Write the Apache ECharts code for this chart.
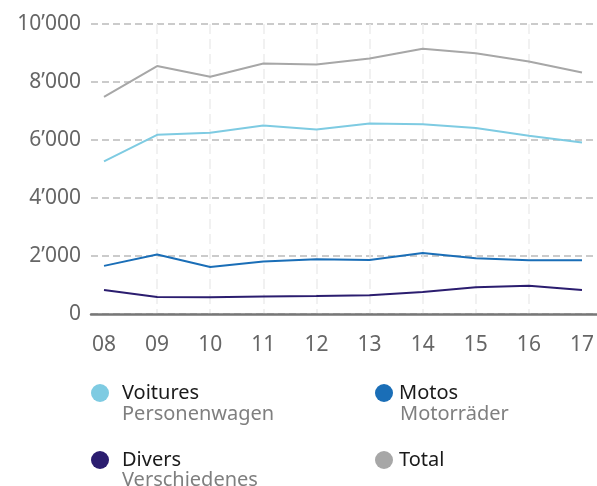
<!DOCTYPE html>
<html>
<head>
<meta charset="utf-8">
<script src="https://cdn.jsdelivr.net/npm/echarts@6/dist/echarts.min.js"></script>
<style>
  html, body { margin: 0; padding: 0; background: #fff; }
  #chartWrap { width: 597px; height: 486px; }
</style>
</head>
<body>
<div id="chartWrap"></div>
<script>
// 数据
var years = ['08', '09', '10', '11', '12', '13', '14', '15', '16', '17'];
var voitures = [5260, 6180, 6250, 6500, 6360, 6570, 6540, 6410, 6150, 5910];
var motos = [1660, 2050, 1620, 1810, 1890, 1860, 2100, 1920, 1850, 1850];
var divers = [830, 590, 580, 600, 620, 650, 760, 920, 970, 830];
var total = [7490, 8550, 8180, 8640, 8600, 8810, 9150, 8990, 8710, 8330];
var yTicks = [0, 2000, 4000, 6000, 8000, 10000];

var FONT = '"Noto Sans", sans-serif';

// 千分位用 ’
function fmt(v) {
    return String(v).replace(/\B(?=(\d{3})+(?!\d))/g, '\u2019');
}

function lineSeries(name, data, color) {
    return {
        name: name,
        type: 'line',
        xAxisIndex: 1,
        yAxisIndex: 1,
        data: data,
        symbol: 'none',
        silent: true,
        lineStyle: { color: color, width: 2 },
        itemStyle: { color: color }
    };
}

// 图例第二行(德文)
function subText(text, x, y) {
    return {
        type: 'text', x: x, y: y,
        style: { text: text, fill: '#7f7f7f', font: '20px ' + FONT, verticalAlign: 'middle' }
    };
}

var myChart = echarts.init(document.getElementById('chartWrap'));

myChart.setOption({
    animation: false,
    textStyle: { fontFamily: FONT },
    grid: [
        // 背景网格: 横向虚线 + 0轴, 比数据区更宽
        { left: 91, right: 0, top: 24, bottom: 172 },
        // 数据区
        { left: 104, right: 13, top: 24, bottom: 172 }
    ],
    xAxis: [
        {
            gridIndex: 0, type: 'value', min: 0, max: 1,
            axisLine: { show: true, lineStyle: { color: '#777', width: 2.5 } },
            axisTick: { show: false }, axisLabel: { show: false }, splitLine: { show: false }
        },
        {
            gridIndex: 1, type: 'category', data: years, boundaryGap: false,
            axisLine: { show: false }, axisTick: { show: false },
            axisLabel: { color: '#666', fontSize: 21, margin: 21, fontFamily: FONT },
            splitLine: {
                show: true,
                interval: function (i) { return i > 0 && i < years.length - 1; },
                lineStyle: { color: '#ededed', width: 1.5, type: [10, 5] }
            }
        }
    ],
    yAxis: [
        {
            gridIndex: 0, type: 'value', min: yTicks[0], max: yTicks[yTicks.length - 1], interval: 2000,
            axisLine: { show: false }, axisTick: { show: false },
            axisLabel: { color: '#666', fontSize: 21, margin: 10, fontFamily: FONT, formatter: fmt },
            splitLine: { lineStyle: { color: '#bbb', width: 1.5, type: [7, 4] } }
        },
        {
            gridIndex: 1, type: 'value', min: 0, max: 10000, show: false
        }
    ],
    legend: [
        {
            orient: 'vertical', left: 91, top: 383, itemGap: 47, padding: 0,
            itemWidth: 18, itemHeight: 18, icon: 'circle', selectedMode: false,
            textStyle: { color: '#1a1a1a', fontSize: 20, lineHeight: 20, padding: [0, 0, 0, 8], fontFamily: FONT },
            data: ['Voitures', 'Divers']
        },
        {
            orient: 'vertical', left: 375, top: 383, itemGap: 47, padding: 0,
            itemWidth: 18, itemHeight: 18, icon: 'circle', selectedMode: false,
            textStyle: { color: '#1a1a1a', fontSize: 20, lineHeight: 20, padding: [0, 0, 0, 1], fontFamily: FONT },
            data: ['Motos', 'Total']
        }
    ],
    graphic: [
        subText('Personenwagen', 122, 414),
        subText('Motorräder', 400, 414),
        subText('Verschiedenes', 122, 480)
    ],
    series: [
        lineSeries('Voitures', voitures, '#7ecbe2'),
        lineSeries('Motos', motos, '#1a6eb7'),
        lineSeries('Divers', divers, '#2b1d6f'),
        lineSeries('Total', total, '#a7a7a7')
    ]
});
</script>
</body>
</html>
